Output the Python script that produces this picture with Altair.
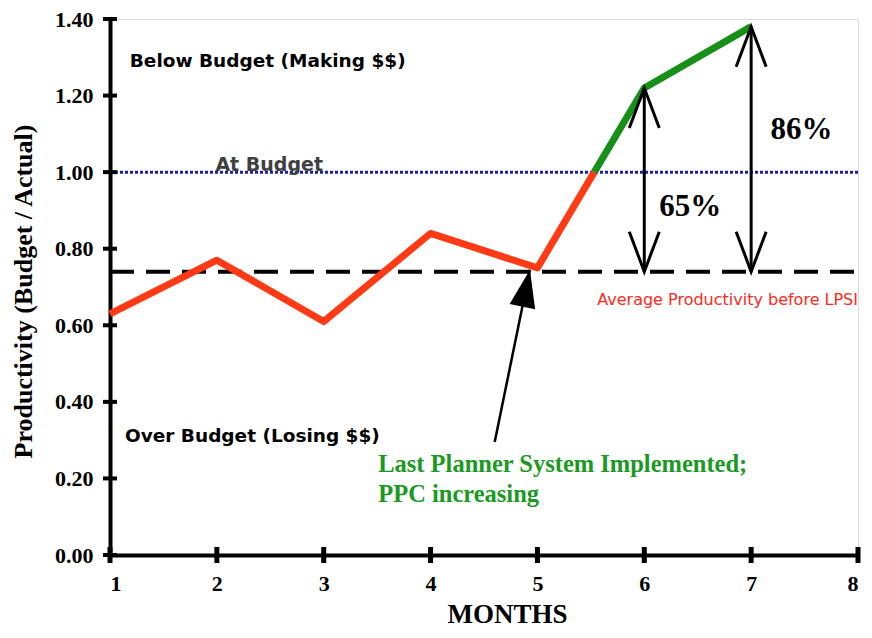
import math
import altair as alt
import pandas as pd

# ---- data ----
months = [1, 2, 3, 4, 5, 6, 7]
productivity = [0.63, 0.77, 0.61, 0.84, 0.75, 1.22, 1.38]
at_budget = 1.00
avg_before = 0.74
x_ticks = [1, 2, 3, 4, 5, 6, 7, 8]
y_ticks = [0.0, 0.2, 0.4, 0.6, 0.8, 1.0, 1.2, 1.4]

gain_months = [6, 7]
gain_labels = ["65%", "86%"]
gain_label_x = [6.14, 7.18]
gain_label_y = [0.91, 1.11]

arrow_from = (4.60, 0.295)
arrow_to = (4.93, 0.745)

W, H = 748, 536
X_DOM = [1, 8]
Y_DOM = [0, 1.4]

SERIF = "Liberation Serif"
SANS = "DejaVu Sans"

# crossing of the budget line between month 5 and 6
i = 4
t = (at_budget - productivity[i]) / (productivity[i + 1] - productivity[i])
x_cross = months[i] + t * (months[i + 1] - months[i])

red_df = pd.DataFrame({"x": months[:5] + [x_cross], "y": productivity[:5] + [at_budget]})
green_df = pd.DataFrame({"x": [x_cross] + months[5:], "y": [at_budget] + productivity[5:]})

xs = alt.Scale(domain=X_DOM, nice=False, zero=False)
ys = alt.Scale(domain=Y_DOM, nice=False)

x_axis = alt.Axis(values=x_ticks, format="d", title="MONTHS", grid=False,
                  ticks=False, tickSize=0, labelPadding=18,
                  labelFont=SERIF, labelFontWeight="bold", labelFontSize=22, labelColor="black",
                  titleFont=SERIF, titleFontWeight="bold", titleFontSize=27, titleColor="black",
                  titlePadding=7, titleX=397, domainColor="black", domainWidth=4)
y_axis = alt.Axis(values=y_ticks, format=".2f", title="Productivity (Budget / Actual)", grid=False,
                  ticks=False, tickSize=0, labelPadding=17,
                  labelFont=SERIF, labelFontWeight="bold", labelFontSize=22, labelColor="black",
                  titleFont=SERIF, titleFontWeight="bold", titleFontSize=26, titleColor="black",
                  titlePadding=18, titleY=272, domainColor="black", domainWidth=4)

base_df = pd.DataFrame({"x": [X_DOM[0]], "y": [Y_DOM[0]]})
frame = alt.Chart(base_df).mark_point(opacity=0).encode(
    x=alt.X("x:Q", scale=xs, axis=x_axis),
    y=alt.Y("y:Q", scale=ys, axis=y_axis),
)

X = lambda f="x": alt.X(f"{f}:Q", scale=xs)
Y = lambda f="y": alt.Y(f"{f}:Q", scale=ys)

# axis ticks that cross the axis line
xt = alt.Chart(pd.DataFrame({"x": x_ticks, "y": [0] * len(x_ticks)})).mark_tick(
    orient="vertical", size=16, thickness=5, color="black", opacity=1
).encode(x=X(), y=Y())
yt = alt.Chart(pd.DataFrame({"x": [1] * len(y_ticks), "y": y_ticks})).mark_tick(
    orient="horizontal", size=14, thickness=4, color="black", opacity=1
).encode(x=X(), y=Y())

ref_df = pd.DataFrame({"x": [X_DOM[0]], "x2": [X_DOM[1]], "budget": [at_budget], "avg": [avg_before]})
budget_line = alt.Chart(ref_df).mark_rule(color="#1a1fb0", strokeWidth=3, strokeDash=[3, 2]).encode(
    x=X(), x2="x2:Q", y=Y("budget"))
avg_line = alt.Chart(ref_df).mark_rule(color="black", strokeWidth=4, strokeDash=[24, 12]).encode(
    x=X(), x2="x2:Q", y=Y("avg"))

red_line = alt.Chart(red_df).mark_line(color="#ff3a14", strokeWidth=7, strokeJoin="round").encode(
    x=X(), y=Y())
green_line = alt.Chart(green_df).mark_line(color="#17901a", strokeWidth=7, strokeJoin="round").encode(
    x=X(), y=Y())

# double-headed gain arrows
gain_df = pd.DataFrame({
    "x": gain_months,
    "top": [productivity[months.index(m)] for m in gain_months],
    "bottom": [avg_before] * len(gain_months),
})
gain_rules = alt.Chart(gain_df).mark_rule(color="black", strokeWidth=3).encode(
    x=X(), y=Y("bottom"), y2="top:Q")
head_up = alt.Chart(gain_df).mark_point(
    shape="M-1.5,4L0,0L1.5,4", size=400, filled=False, stroke="black", strokeWidth=3, opacity=1
).encode(x=X(), y=Y("top"))
head_down = alt.Chart(gain_df).mark_point(
    shape="M-1.5,-4L0,0L1.5,-4", size=400, filled=False, stroke="black", strokeWidth=3, opacity=1
).encode(x=X(), y=Y("bottom"))

gain_text = alt.Chart(pd.DataFrame({"x": gain_label_x, "y": gain_label_y, "t": gain_labels})).mark_text(
    font=SERIF, fontWeight="bold", fontSize=31, align="left", baseline="middle", color="black"
).encode(x=X(), y=Y(), text="t:N")

# annotation arrow
arr_df = pd.DataFrame({"x": [arrow_from[0]], "y": [arrow_from[1]], "x2": [arrow_to[0]], "y2": [arrow_to[1]]})
px_x = W / (X_DOM[1] - X_DOM[0])
px_y = H / (Y_DOM[1] - Y_DOM[0])
ang = math.degrees(math.atan2((arrow_to[0] - arrow_from[0]) * px_x, (arrow_to[1] - arrow_from[1]) * px_y))
arr_line = alt.Chart(arr_df).mark_rule(color="black", strokeWidth=2.5).encode(
    x=X(), y=Y(), x2="x2:Q", y2="y2:Q")
arr_head = alt.Chart(arr_df).mark_point(
    shape="M0,0L-1,2.9L1,2.9Z", size=676, filled=True, color="black", opacity=1, angle=ang
).encode(x=X("x2"), y=Y("y2"))

def label(text, x, y, align="left", baseline="middle", **kw):
    return alt.Chart(pd.DataFrame({"x": [x], "y": [y], "t": [text]})).mark_text(
        align=align, baseline=baseline, **kw).encode(x=X(), y=Y(), text="t:N")

texts = [
    label("Below Budget (Making $$)", 1.185, 1.29, font=SANS, fontWeight="bold", fontSize=18.5, color="black"),
    label("At Budget", 2.49, at_budget, align="center", baseline="alphabetic", dy=-1,
          font=SANS, fontWeight="bold", fontSize=19, color="#404040"),
    label("Over Budget (Losing $$)", 1.14, 0.312, font=SANS, fontWeight="bold", fontSize=18.5, color="black"),
    label("Last Planner System Implemented;", 3.51, 0.236, font=SERIF, fontWeight="bold", fontSize=24.5, color="#1a9a22"),
    label("PPC increasing", 3.51, 0.156, font=SERIF, fontWeight="bold", fontSize=24.5, color="#1a9a22"),
    label("Average Productivity before LPSI", 8.0, 0.665, align="right", font=SANS, fontSize=16, color="#ff2a1a"),
]

chart = alt.layer(
    frame, budget_line, avg_line, red_line, green_line,
    gain_rules, head_up, head_down, gain_text,
    arr_line, arr_head, xt, yt, *texts,
).properties(
    width=W, height=H, padding={"left": 2, "top": 0, "right": 0, "bottom": 0}
).configure_view(stroke=None).configure(background="white")

chart.save("out.html", embed_options={"renderer": "svg", "actions": False})
